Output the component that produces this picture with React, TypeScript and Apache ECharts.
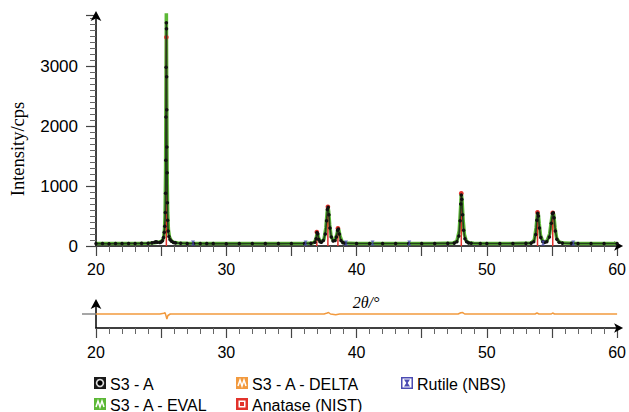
import React, { useEffect, useRef } from "react";
import * as echarts from "echarts";

// 2θ (°) , intensity (cps) — observed S3 - A
const observed: [number, number][] = [
  [20, 40], [20.5, 42], [21, 38], [21.5, 41], [22, 40], [22.5, 43], [23, 41], [23.5, 44], [24, 46],
  [24.3, 52], [24.5, 62], [24.6, 70], [24.7, 64], [24.9, 60], [25.0, 66], [25.1, 88], [25.18, 140],
  [25.24, 230], [25.28, 330], [25.32, 560], [25.34, 880], [25.36, 1430], [25.37, 2150], [25.38, 2980],
  [25.4, 3720], [25.41, 3620], [25.42, 2820], [25.43, 2270], [25.44, 1650], [25.46, 1220], [25.48, 720],
  [25.5, 430], [25.54, 250], [25.6, 160], [25.68, 110], [25.8, 78], [25.95, 60], [26.1, 52], [26.5, 45],
  [27, 43], [27.5, 42], [28, 41], [28.5, 40], [29, 40], [30, 39], [31, 40], [32, 41], [33, 40], [34, 40],
  [35, 42], [36, 43], [36.5, 44], [36.8, 62], [36.9, 120], [36.96, 225], [37.02, 205], [37.1, 110],
  [37.2, 72], [37.3, 62], [37.45, 92], [37.6, 200], [37.7, 420], [37.76, 610], [37.82, 645], [37.88, 520],
  [37.96, 300], [38.06, 150], [38.2, 82], [38.35, 92], [38.45, 150], [38.54, 262], [38.6, 285],
  [38.68, 200], [38.8, 92], [38.95, 56], [39.1, 46], [40, 43], [41, 42], [42, 41], [43, 41], [44, 42],
  [45, 42], [46, 43], [47, 44], [47.5, 48], [47.7, 72], [47.85, 165], [47.95, 420], [48.0, 700],
  [48.04, 850], [48.08, 780], [48.14, 520], [48.22, 262], [48.32, 122], [48.45, 72], [48.6, 52],
  [48.8, 45], [49.5, 43], [50, 42], [51, 42], [52, 43], [53, 44], [53.4, 48], [53.6, 72], [53.75, 190],
  [53.84, 430], [53.9, 545], [53.96, 500], [54.04, 300], [54.14, 140], [54.3, 72], [54.45, 62],
  [54.6, 72], [54.8, 150], [54.95, 380], [55.04, 540], [55.1, 555], [55.16, 470], [55.26, 250],
  [55.38, 112], [55.55, 62], [55.8, 48], [56.5, 44], [57, 43], [58, 42], [59, 41], [60, 41],
];

// calculated profile S3 - A - EVAL
const evaluated: [number, number][] = [
  [20, 41], [21, 40], [22, 41], [23, 42], [24, 45], [24.5, 55], [24.7, 62], [24.9, 66], [25.1, 90],
  [25.2, 150], [25.26, 280], [25.3, 520], [25.34, 1200], [25.37, 2500], [25.4, 3950], [25.43, 2500],
  [25.46, 1250], [25.5, 560], [25.56, 270], [25.64, 150], [25.76, 95], [25.95, 62], [26.3, 50],
  [27, 44], [28, 42], [30, 41], [32, 41], [34, 41], [36, 43], [36.6, 48], [36.8, 70], [36.92, 150],
  [36.98, 230], [37.06, 160], [37.16, 85], [37.3, 70], [37.5, 110], [37.64, 300], [37.74, 560],
  [37.8, 660], [37.86, 580], [37.94, 350], [38.04, 170], [38.2, 90], [38.36, 100], [38.48, 190],
  [38.58, 285], [38.64, 270], [38.74, 160], [38.9, 70], [39.1, 48], [40, 43], [42, 42], [44, 42],
  [46, 43], [47.4, 48], [47.7, 80], [47.88, 250], [47.98, 620], [48.04, 880], [48.1, 760], [48.18, 440],
  [48.28, 190], [48.42, 85], [48.6, 55], [49, 46], [50, 43], [52, 43], [53.4, 50], [53.64, 100],
  [53.78, 300], [53.88, 540], [53.94, 560], [54.02, 380], [54.12, 180], [54.28, 85], [54.45, 68],
  [54.62, 85], [54.82, 200], [54.98, 460], [55.08, 560], [55.14, 520], [55.24, 300], [55.36, 130],
  [55.55, 68], [55.9, 48], [57, 43], [60, 41],
];

// difference S3 - A - DELTA
const delta: [number, number][] = [
  [20, 0], [24.9, 0], [25.2, 8], [25.3, 12], [25.38, -20], [25.44, -50], [25.52, -15], [25.7, 0],
  [37.5, 0], [37.75, 10], [37.85, 15], [38.0, 0], [38.4, -8], [38.7, 0], [47.8, 0], [48.0, 12],
  [48.15, 14], [48.3, 0], [53.7, 0], [53.85, 10], [54.0, 0], [54.95, 0], [55.05, 10], [55.2, 0], [60, 0],
];

// reference patterns
const anataseTheta = [25.4, 36.95, 37.8, 38.57, 48.04, 53.89, 55.06];
const anataseIntensity = [3480, 233, 655, 295, 878, 562, 555];
const rutileTheta = [27.45, 36.09, 39.19, 41.23, 44.05, 54.32, 56.64];
const rutileIntensity = [50, 50, 50, 50, 50, 50, 50];

const yTicks = [0, 1000, 2000, 3000];
const xTicks = [20, 30, 40, 50, 60];

const seriesNames = ["S3 - A", "S3 - A - DELTA", "Rutile (NBS)", "S3 - A - EVAL", "Anatase (NIST)"];

const GREEN = "#5cb836";
const RED = "#e2322b";
const ORANGE = "#f29a3e";
const BLUE = "#4b4bb3";

export default function App() {
  const ref = useRef<HTMLDivElement>(null);
  useEffect(() => {
    if (!ref.current) return;
    const chart = echarts.init(ref.current, undefined, { renderer: "svg" });
    const font = "'Liberation Sans', Arial, sans-serif";
    const xAxisCommon = {
      type: "value",
      min: 20,
      max: 60,
      interval: 5,
      axisLine: {
        onZero: false,
        lineStyle: { color: "#000", width: 1.5 },
        symbol: ["none", "arrow"],
        symbolSize: [7, 9],
        symbolOffset: [0, 6],
      },
      axisTick: { length: 10, lineStyle: { color: "#444", width: 1.2 } },
      minorTick: { show: true, splitNumber: 5, length: 6, lineStyle: { color: "#666", width: 1 } },
      splitLine: { show: false },
      axisLabel: {
        color: "#000",
        fontSize: 16,
        fontFamily: font,
        formatter: (v: number) => (xTicks.includes(v) ? String(v) : ""),
      },
    };
    const legendItems = [
      { name: seriesNames[0], x: 94, y: 377 },
      { name: seriesNames[1], x: 236, y: 377 },
      { name: seriesNames[2], x: 401, y: 377 },
      { name: seriesNames[3], x: 94, y: 398 },
      { name: seriesNames[4], x: 236, y: 398 },
    ];
    const zig = (x: number, y: number) => ({
      type: "polyline",
      shape: { points: [[x + 2, y + 9], [x + 4, y + 3], [x + 6, y + 9], [x + 8, y + 3], [x + 10, y + 9]] },
      style: { stroke: "#fff", lineWidth: 1.5, fill: null },
    });
    const iconFor = (i: number, x: number, y: number): any[] => {
      if (i === 0)
        return [
          { type: "rect", shape: { x, y, width: 12, height: 12 }, style: { fill: "#1a1a1a" } },
          { type: "circle", shape: { cx: x + 6, cy: y + 6, r: 4.2 }, style: { fill: "#ddd" } },
          { type: "circle", shape: { cx: x + 6, cy: y + 6, r: 2.6 }, style: { fill: "#000" } },
        ];
      if (i === 1)
        return [{ type: "rect", shape: { x, y, width: 12, height: 12 }, style: { fill: ORANGE } }, zig(x, y)];
      if (i === 2)
        return [
          { type: "rect", shape: { x: x + 0.75, y: y + 0.75, width: 10.5, height: 10.5 }, style: { fill: "#fff", stroke: BLUE, lineWidth: 1.5 } },
          { type: "polygon", shape: { points: [[x + 3, y + 2.5], [x + 9, y + 2.5], [x + 6.7, y + 6], [x + 9, y + 9.5], [x + 3, y + 9.5], [x + 5.3, y + 6]] }, style: { fill: BLUE } },
        ];
      if (i === 3)
        return [{ type: "rect", shape: { x, y, width: 12, height: 12 }, style: { fill: GREEN } }, zig(x, y)];
      return [
        { type: "rect", shape: { x, y, width: 12, height: 12 }, style: { fill: RED } },
        { type: "rect", shape: { x: x + 2.5, y: y + 2.5, width: 7, height: 7 }, style: { fill: "#fff" } },
        { type: "rect", shape: { x: x + 4, y: y + 4, width: 4, height: 4 }, style: { fill: RED } },
      ];
    };
    const legendGraphics: any[] = [];
    legendItems.forEach((it, i) => {
      legendGraphics.push(...iconFor(i, it.x, it.y));
      legendGraphics.push({
        type: "text",
        x: it.x + 16,
        y: it.y + 7,
        style: { text: it.name, fill: "#000", font: `16px ${font}`, textVerticalAlign: "middle" },
      });
    });

    const refRender = (color: string, dot: number) => (params: any, api: any) => {
      const base = api.coord([api.value(0), 0]);
      const top = api.coord([api.value(0), api.value(1)]);
      return {
        type: "group",
        children: [
          { type: "line", shape: { x1: base[0], y1: base[1], x2: top[0], y2: top[1] }, style: { stroke: color, lineWidth: 1.5 } },
          { type: "circle", shape: { cx: top[0], cy: top[1], r: dot }, style: { fill: color } },
        ],
      };
    };

    chart.setOption({
      animation: false,
      grid: [
        { left: 96, right: 10, top: 15, height: 231 },
        { left: 96, right: 10, top: 303, height: 25 },
      ],
      xAxis: [
        { ...xAxisCommon, gridIndex: 0, axisLabel: { ...xAxisCommon.axisLabel, margin: 15 } },
        { ...xAxisCommon, gridIndex: 1, axisLabel: { ...xAxisCommon.axisLabel, margin: 16 } },
      ],
      yAxis: [
        {
          type: "value",
          gridIndex: 0,
          min: 0,
          max: 3850,
          interval: 1000,
          axisLine: { show: true, onZero: false, lineStyle: { color: "#000", width: 1.5 }, symbol: ["none", "arrow"], symbolSize: [8, 10], symbolOffset: [0, 4] },
          axisTick: { show: true, length: 10, lineStyle: { color: "#444", width: 1.2 } },
          minorTick: { show: true, splitNumber: 10, length: 6, lineStyle: { color: "#666", width: 1 } },
          splitLine: { show: false },
          axisLabel: {
            color: "#000",
            fontSize: 17,
            fontFamily: font,
            margin: 18,
            showMaxLabel: false,
            formatter: (v: number) => (yTicks.includes(v) ? String(v) : ""),
          },
        },
        {
          type: "value",
          gridIndex: 1,
          min: -140,
          max: 110,
          axisLine: { show: true, onZero: false, lineStyle: { color: "#000", width: 1.5 }, symbol: ["none", "arrow"], symbolSize: [8, 10], symbolOffset: [0, 4] },
          axisTick: { show: true, customValues: [0], length: 14, lineStyle: { color: "#888", width: 1.5 } },
          axisLabel: { show: false },
          splitLine: { show: false },
        },
      ],
      graphic: [
        {
          type: "text",
          x: 18,
          y: 149,
          rotation: Math.PI / 2,
          style: {
            text: "Intensity/cps",
            fill: "#000",
            font: "18.5px 'Liberation Serif', 'Times New Roman', serif",
            textAlign: "center",
            textVerticalAlign: "middle",
          },
        },
        {
          type: "text",
          x: 366,
          y: 302,
          style: {
            text: "2θ/°",
            fill: "#000",
            font: "italic 16px 'Liberation Serif', 'Times New Roman', serif",
            textAlign: "center",
            textVerticalAlign: "middle",
          },
        },
        ...legendGraphics,
      ],
      series: [
        {
          name: seriesNames[3],
          type: "line",
          xAxisIndex: 0,
          yAxisIndex: 0,
          data: evaluated,
          showSymbol: false,
          lineStyle: { color: GREEN, width: 3.5 },
          itemStyle: { color: GREEN },
          z: 2,
        },
        {
          name: seriesNames[4],
          type: "custom",
          xAxisIndex: 0,
          yAxisIndex: 0,
          data: anataseTheta.map((t, i) => [t, anataseIntensity[i]]),
          renderItem: refRender(RED, 2.3),
          itemStyle: { color: RED },
          z: 3,
        },
        {
          name: seriesNames[0],
          type: "line",
          xAxisIndex: 0,
          yAxisIndex: 0,
          data: observed,
          symbol: "circle",
          symbolSize: 3.5,
          showSymbol: true,
          lineStyle: { color: "#24401c", width: 1.6 },
          itemStyle: { color: "#111" },
          z: 4,
        },
        {
          name: seriesNames[2],
          type: "scatter",
          xAxisIndex: 0,
          yAxisIndex: 0,
          data: rutileTheta.map((t, i) => [t, rutileIntensity[i]]),
          symbol: "path://M0,0H10L6,5L10,10H0L4,5Z",
          symbolSize: [4, 5],
          itemStyle: { color: BLUE },
          z: 5,
        },
        {
          name: seriesNames[1],
          type: "line",
          xAxisIndex: 1,
          yAxisIndex: 1,
          data: delta,
          showSymbol: false,
          lineStyle: { color: ORANGE, width: 1.5 },
          itemStyle: { color: ORANGE },
        },
      ],
    });
    return () => chart.dispose();
  }, []);
  return (
    <div
      ref={ref}
      style={{ position: "fixed", left: 0, top: 0, width: 629, height: 412, background: "#fff" }}
    />
  );
}
